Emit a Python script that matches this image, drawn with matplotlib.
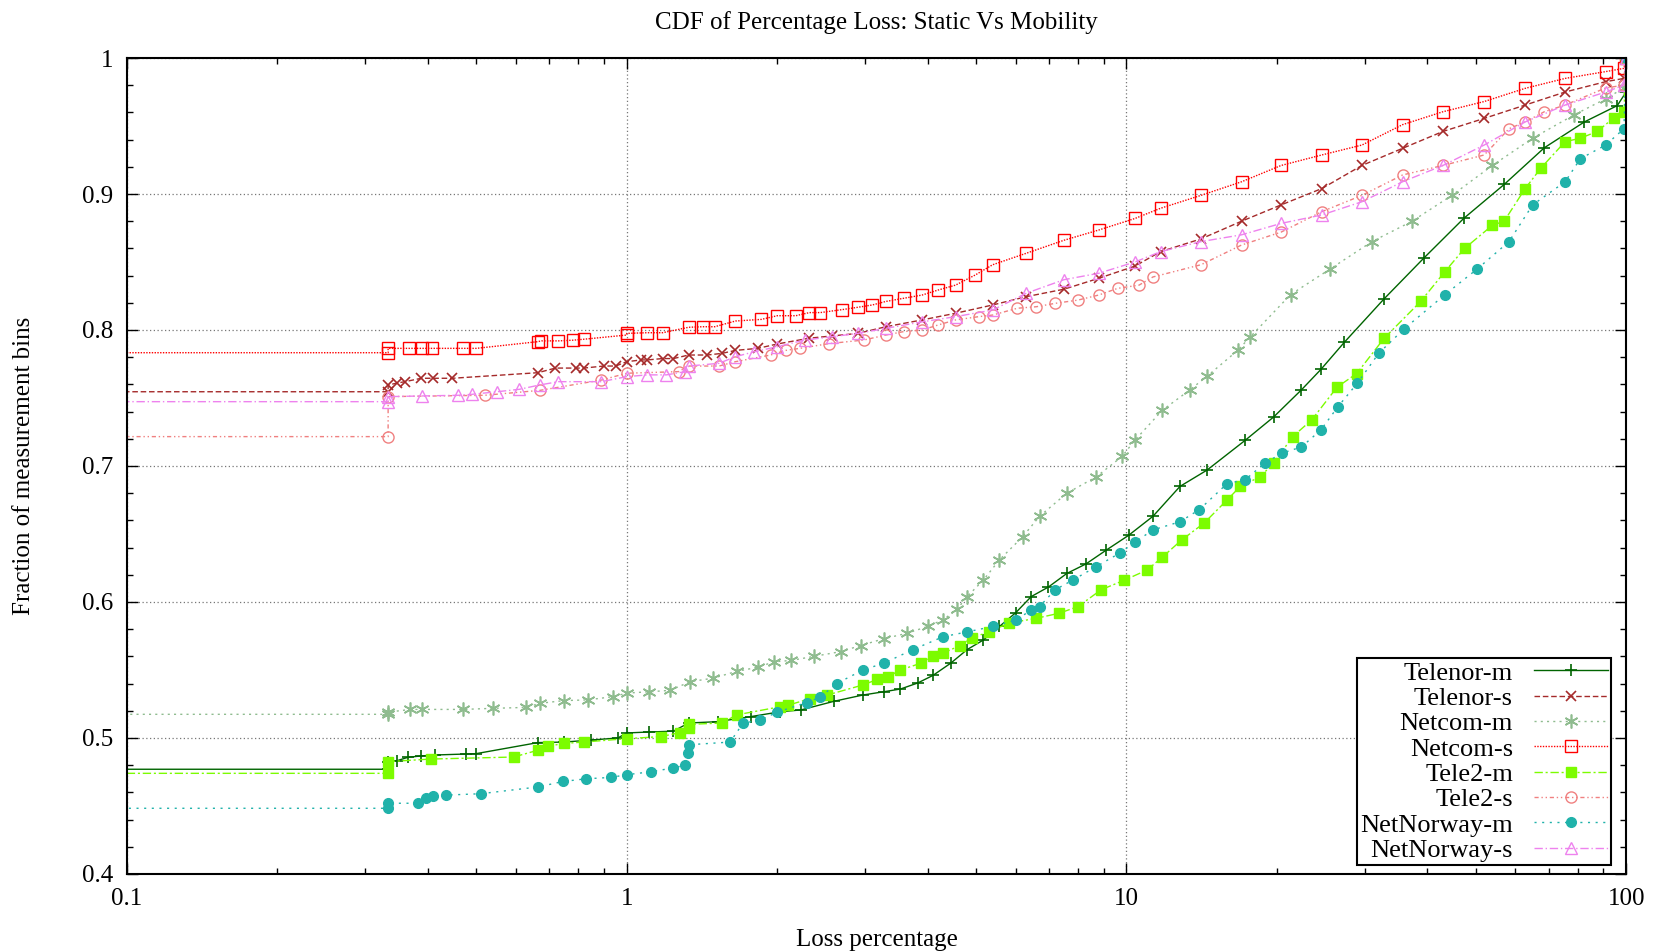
import matplotlib
matplotlib.use('Agg')
import matplotlib.pyplot as plt
from matplotlib.ticker import FixedLocator, LogLocator, MultipleLocator, NullFormatter

plt.rcParams['font.family'] = ['Liberation Serif', 'DejaVu Serif']

# CDF points (x = loss %, y = fraction); 0.05 stands for zero loss
telenor_m_x = [0.05, 0.333, 0.333, 0.347, 0.365, 0.388, 0.414, 0.476, 0.5, 0.664, 0.75, 0.85, 0.96, 1.0, 1.11,
               1.24, 1.33, 1.52, 1.77, 2.03, 2.23, 2.6, 2.97, 3.27, 3.53, 3.82, 4.1, 4.45, 4.8, 5.17, 5.57, 6.0,
               6.45, 6.98, 7.6, 8.3, 9.1, 10.1, 11.3, 12.8, 14.5, 17.3, 19.7, 22.4, 24.5, 27.3, 32.8, 39.4,
               47.3, 57, 68.6, 82.5, 96, 100, 100]
telenor_m_y = [0.477, 0.477, 0.4826, 0.4833, 0.4858, 0.4868, 0.4875, 0.4882, 0.4885, 0.4966, 0.497, 0.4985,
               0.500, 0.5037, 0.5044, 0.505, 0.511, 0.512, 0.5157, 0.5193, 0.5206, 0.527, 0.5316, 0.534, 0.536,
               0.5404, 0.546, 0.555, 0.565, 0.572, 0.582, 0.592, 0.604, 0.611, 0.621, 0.628, 0.638, 0.649,
               0.663, 0.685, 0.697, 0.719, 0.736, 0.756, 0.771, 0.791, 0.823, 0.853, 0.882, 0.907, 0.934,
               0.953, 0.965, 0.975, 1.0]

telenor_s_x = [0.05, 0.333, 0.333, 0.347, 0.36, 0.388, 0.41, 0.448, 0.664, 0.72, 0.79, 0.82, 0.9, 0.95, 1.0,
               1.07, 1.1, 1.18, 1.24, 1.33, 1.45, 1.55, 1.65, 1.83, 2.0, 2.32, 2.57, 2.9, 3.3, 3.9, 4.55, 5.4,
               6.3, 7.5, 8.8, 10.4, 11.7, 14.1, 17, 20.4, 24.6, 29.6, 35.7, 43, 52, 62.8, 75.5, 91, 99, 100]
telenor_s_y = [0.7546, 0.7546, 0.7595, 0.761, 0.762, 0.7645, 0.7645, 0.7645, 0.7686, 0.772, 0.772, 0.772,
               0.7735, 0.7735, 0.7767, 0.778, 0.778, 0.779, 0.779, 0.7816, 0.7816, 0.7828, 0.785, 0.7865,
               0.7897, 0.794, 0.7956, 0.7975, 0.8024, 0.8074, 0.8123, 0.8184, 0.8245, 0.830, 0.838, 0.847,
               0.8576, 0.867, 0.88, 0.892, 0.904, 0.921, 0.9336, 0.946, 0.9556, 0.9654, 0.975, 0.9826, 0.985,
               1.0]

netcom_m_x = [0.05, 0.333, 0.333, 0.369, 0.39, 0.47, 0.54, 0.63, 0.67, 0.75, 0.835, 0.94, 1.0, 1.11, 1.22,
              1.34, 1.49, 1.66, 1.83, 1.97, 2.13, 2.37, 2.68, 2.94, 3.27, 3.64, 4.0, 4.3, 4.58, 4.8, 5.17,
              5.57, 6.2, 6.7, 7.6, 8.7, 9.8, 10.4, 11.8, 13.4, 14.5, 16.7, 17.7, 21.3, 25.6, 31, 37.3, 44.8,
              54, 65, 78.5, 91, 99, 100]
netcom_m_y = [0.5174, 0.5174, 0.519, 0.521, 0.521, 0.521, 0.5218, 0.5225, 0.5255, 0.5275, 0.528, 0.5304,
              0.533, 0.534, 0.535, 0.5414, 0.544, 0.549, 0.552, 0.556, 0.557, 0.560, 0.5635, 0.568, 0.573,
              0.577, 0.582, 0.587, 0.5945, 0.604, 0.616, 0.631, 0.648, 0.663, 0.68, 0.692, 0.707, 0.719,
              0.741, 0.756, 0.766, 0.785, 0.795, 0.826, 0.845, 0.865, 0.88, 0.899, 0.921, 0.941, 0.958,
              0.97, 0.978, 1.0]

netcom_s_x = [0.05, 0.333, 0.333, 0.367, 0.39, 0.408, 0.47, 0.50, 0.663, 0.675, 0.73, 0.78, 0.82, 1.0, 1.0,
              1.1, 1.18, 1.33, 1.42, 1.5, 1.65, 1.86, 2.0, 2.18, 2.32, 2.44, 2.7, 2.9, 3.1, 3.3, 3.58, 3.9,
              4.2, 4.55, 4.98, 5.4, 6.3, 7.5, 8.8, 10.4, 11.7, 14.1, 17, 20.4, 24.6, 29.6, 35.7, 43, 52,
              62.8, 75.5, 91, 99, 100]
netcom_s_y = [0.7833, 0.7833, 0.7865, 0.7865, 0.7865, 0.7865, 0.7865, 0.7865, 0.7914, 0.792, 0.792, 0.7925,
              0.7932, 0.7963, 0.7975, 0.798, 0.798, 0.802, 0.8024, 0.8024, 0.8066, 0.8078, 0.8105, 0.8105,
              0.8128, 0.8128, 0.815, 0.8167, 0.8184, 0.821, 0.8233, 0.8257, 0.8294, 0.833, 0.8404, 0.848,
              0.8564, 0.866, 0.8735, 0.882, 0.8895, 0.899, 0.909, 0.921, 0.9287, 0.936, 0.951, 0.9605,
              0.968, 0.9777, 0.985, 0.99, 0.9924, 1.0]

tele2_m_x = [0.05, 0.333, 0.333, 0.405, 0.594, 0.664, 0.696, 0.75, 0.82, 1.0, 1.17, 1.28, 1.33, 1.33, 1.55,
             1.66, 2.03, 2.1, 2.33, 2.52, 2.97, 3.17, 3.33, 3.53, 3.88, 4.1, 4.3, 4.65, 4.9, 5.3, 5.83, 6.6,
             7.33, 8.0, 8.9, 9.9, 11.0, 11.8, 12.9, 14.3, 15.9, 16.9, 18.5, 19.7, 21.5, 23.5, 26.4, 28.9,
             32.8, 38.8, 43.4, 47.5, 54, 57, 62.8, 67.5, 75.5, 81, 87.5, 94.5, 99, 100]
tele2_m_y = [0.474, 0.474, 0.4826, 0.4845, 0.486, 0.491, 0.494, 0.496, 0.497, 0.4995, 0.501, 0.504, 0.5074,
             0.51, 0.511, 0.517, 0.523, 0.524, 0.529, 0.5316, 0.539, 0.543, 0.545, 0.55, 0.555, 0.56, 0.5625,
             0.568, 0.5735, 0.578, 0.5845, 0.588, 0.5917, 0.5966, 0.609, 0.616, 0.6235, 0.633, 0.6456,
             0.658, 0.675, 0.685, 0.692, 0.702, 0.7215, 0.734, 0.758, 0.768, 0.794, 0.821, 0.843, 0.86,
             0.877, 0.88, 0.904, 0.919, 0.9385, 0.941, 0.946, 0.956, 0.96, 1.0]

tele2_s_x = [0.05, 0.333, 0.333, 0.52, 0.67, 0.89, 1.0, 1.27, 1.33, 1.53, 1.65, 1.94, 2.08, 2.22, 2.54, 2.98,
             3.3, 3.58, 3.9, 4.2, 4.55, 5.06, 5.4, 6.05, 6.6, 7.2, 8.0, 8.8, 9.6, 10.6, 11.3, 14.1, 17, 20.4,
             24.6, 29.6, 35.7, 43, 52, 58.3, 62.8, 68.6, 75.5, 91, 99, 100]
tele2_s_y = [0.7216, 0.7216, 0.751, 0.752, 0.7556, 0.7632, 0.7682, 0.7694, 0.7735, 0.7735, 0.7767, 0.7816,
             0.785, 0.7865, 0.79, 0.7926, 0.7963, 0.7988, 0.80, 0.8037, 0.8074, 0.8098, 0.811, 0.816, 0.8171,
             0.8196, 0.822, 0.8257, 0.8306, 0.833, 0.839, 0.848, 0.8625, 0.872, 0.887, 0.899, 0.914, 0.921,
             0.9287, 0.948, 0.953, 0.9605, 0.9654, 0.978, 0.98, 1.0]

netnorway_m_x = [0.05, 0.333, 0.333, 0.382, 0.396, 0.41, 0.435, 0.51, 0.665, 0.745, 0.83, 0.93, 1.0, 1.12,
                 1.24, 1.31, 1.327, 1.33, 1.61, 1.71, 1.85, 2.0, 2.29, 2.44, 2.63, 2.97, 3.27, 3.74, 4.3, 4.8,
                 5.4, 6.0, 6.45, 6.7, 7.2, 7.8, 8.7, 9.7, 10.4, 11.3, 12.8, 14.0, 15.9, 17.3, 18.9, 20.5,
                 22.4, 24.5, 26.5, 29, 32, 36, 43.4, 50.4, 58.3, 65, 75.5, 81, 91, 99, 100]
netnorway_m_y = [0.4483, 0.4483, 0.452, 0.452, 0.4557, 0.457, 0.458, 0.459, 0.464, 0.468, 0.470, 0.471,
                 0.473, 0.4752, 0.478, 0.480, 0.489, 0.495, 0.497, 0.511, 0.513, 0.519, 0.526, 0.530, 0.540,
                 0.55, 0.555, 0.565, 0.5745, 0.578, 0.582, 0.5867, 0.594, 0.5966, 0.609, 0.616, 0.626,
                 0.636, 0.644, 0.653, 0.659, 0.668, 0.687, 0.69, 0.702, 0.7095, 0.714, 0.7265, 0.7436,
                 0.761, 0.783, 0.801, 0.826, 0.845, 0.865, 0.892, 0.909, 0.926, 0.936, 0.948, 1.0]

netnorway_s_x = [0.05, 0.333, 0.333, 0.39, 0.46, 0.49, 0.55, 0.61, 0.67, 0.73, 0.89, 1.0, 1.1, 1.2, 1.31,
                 1.33, 1.53, 1.65, 1.8, 2.0, 2.27, 2.57, 2.9, 3.3, 3.9, 4.55, 5.4, 6.3, 7.5, 8.8, 10.4, 11.7,
                 14.1, 17, 20.4, 24.6, 29.6, 35.7, 43, 52, 62.8, 75.5, 91, 99, 100]
netnorway_s_y = [0.7473, 0.7473, 0.751, 0.7515, 0.752, 0.7527, 0.7546, 0.7564, 0.7596, 0.762, 0.762,
                 0.7657, 0.767, 0.767, 0.7694, 0.7735, 0.7755, 0.7804, 0.784, 0.7877, 0.7926, 0.795, 0.7975,
                 0.8012, 0.806, 0.8098, 0.8147, 0.827, 0.837, 0.8417, 0.85, 0.8576, 0.865, 0.87, 0.8784,
                 0.8846, 0.8943, 0.909, 0.921, 0.936, 0.953, 0.9654, 0.975, 0.98, 1.0]

x_ticks = [0.1, 1, 10, 100]
x_tick_labels = ['0.1', '1', '10', '100']
y_ticks = [0.4, 0.5, 0.6, 0.7, 0.8, 0.9, 1.0]
y_tick_labels = ['0.4', '0.5', '0.6', '0.7', '0.8', '0.9', '1']

series = [
    ('Telenor-m', telenor_m_x, telenor_m_y,
     dict(color='#006400', ls='-', marker='+', ms=9, mew=1.2)),
    ('Telenor-s', telenor_s_x, telenor_s_y,
     dict(color='#a52a2a', ls=(0, (4, 2)), marker='x', ms=7, mew=1.2)),
    ('Netcom-m', netcom_m_x, netcom_m_y,
     dict(color='#8fbc8f', ls=(0, (1.5, 3)), marker=(6, 2, 0), ms=10, mew=1.2)),
    ('Netcom-s', netcom_s_x, netcom_s_y,
     dict(color='#ff0000', ls=(0, (1, 1)), marker='s', ms=8, mfc='none', mew=1.0)),
    ('Tele2-m', tele2_m_x, tele2_m_y,
     dict(color='#7cfc00', ls=(0, (6, 2, 1.5, 2)), marker='s', ms=7)),
    ('Tele2-s', tele2_s_x, tele2_s_y,
     dict(color='#f08080', ls=(0, (3, 2, 1, 2, 1, 2)), marker='o', ms=8, mfc='none', mew=1.0)),
    ('NetNorway-m', netnorway_m_x, netnorway_m_y,
     dict(color='#20b2aa', ls=(0, (1.5, 4)), marker='o', ms=7)),
    ('NetNorway-s', netnorway_s_x, netnorway_s_y,
     dict(color='#ee82ee', ls=(0, (6, 2, 1, 2)), marker='^', ms=8, mfc='none', mew=1.0)),
]

fig = plt.figure(figsize=(16.61, 9.51), dpi=100)
ax = fig.add_axes([0.0765, 0.081, 0.9025, 0.858])

for name, xs, ys, style in series:
    ax.plot(xs, ys, label=name, lw=1.0, **style)

ax.set_xscale('log')
ax.set_xlim(0.1, 100)
ax.set_ylim(0.4, 1.0)

ax.xaxis.set_major_locator(FixedLocator(x_ticks))
ax.set_xticklabels(x_tick_labels)
ax.xaxis.set_minor_locator(LogLocator(base=10, subs=range(2, 10)))
ax.xaxis.set_minor_formatter(NullFormatter())
ax.set_yticks(y_ticks)
ax.set_yticklabels(y_tick_labels)
ax.yaxis.set_minor_locator(MultipleLocator(0.02))

ax.tick_params(which='both', direction='in', top=True, right=True, labelsize=18, width=1.0)
ax.tick_params(which='major', length=8, pad=10)
ax.tick_params(which='minor', length=4)
for sp in ax.spines.values():
    sp.set_linewidth(1.5)

ax.grid(True, which='major', ls=(0, (1, 2)), color='#777777', lw=0.9)

ax.set_title('CDF of Percentage Loss: Static Vs Mobility', fontsize=18, pad=21)
ax.set_xlabel('Loss percentage', fontsize=18, labelpad=14)
ax.set_ylabel('Fraction of measurement bins', fontsize=18, labelpad=34)

# markerfirst=False right-aligns the labels next to the samples, as gnuplot does
leg = ax.legend(loc='lower right', bbox_to_anchor=(0.99, 0.011), borderaxespad=0, fontsize=19,
                markerfirst=False, handlelength=2.8, handletextpad=0.8, labelspacing=0.07, borderpad=0.12,
                fancybox=False, framealpha=1, edgecolor='black')
leg.get_frame().set_linewidth(1.5)

fig.savefig('out.png', dpi=100)
